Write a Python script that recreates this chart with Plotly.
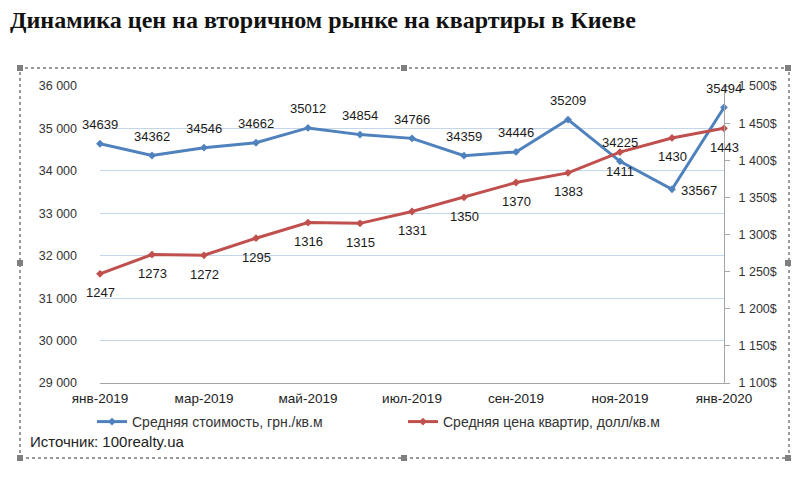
import plotly.graph_objects as go

# ---- data ----
months = ["янв-2019", "фев-2019", "мар-2019", "апр-2019", "май-2019", "июн-2019",
          "июл-2019", "авг-2019", "сен-2019", "окт-2019", "ноя-2019", "дек-2019", "янв-2020"]
uah_per_m2 = [34639, 34362, 34546, 34662, 35012, 34854, 34766, 34359, 34446, 35209, 34225, 33567, 35494]
usd_per_m2 = [1247, 1273, 1272, 1295, 1316, 1315, 1331, 1350, 1370, 1383, 1411, 1430, 1443]
x_tick_labels = months[::2]
left_ticks = [29000, 30000, 31000, 32000, 33000, 34000, 35000, 36000]
right_ticks = [1100, 1150, 1200, 1250, 1300, 1350, 1400, 1450, 1500]
blue_label_pos = ["above"] * 11 + ["right", "above"]
red_label_pos = ["below"] * 13

series_uah = "Средняя стоимость, грн./кв.м"
series_usd = "Средняя цена квартир, долл/кв.м"
title_text = "Динамика цен на вторичном рынке на квартиры в Киеве"
source_text = "Источник: 100realty.ua"

# ---- layout geometry (page pixels; page body has an 8px margin) ----
OFF = 8
PAGE_W, PAGE_H = 810, 477
W, H = PAGE_W - OFF, PAGE_H - OFF
PLOT_LEFT, PLOT_RIGHT, PLOT_TOP, PLOT_BOTTOM = 100, 724, 86, 383
L = PLOT_LEFT - OFF
R = PAGE_W - PLOT_RIGHT
T = PLOT_TOP - OFF
B = PAGE_H - PLOT_BOTTOM
PW, PH = PLOT_RIGHT - PLOT_LEFT, PLOT_BOTTOM - PLOT_TOP

def px_x(p):
    return (p - PLOT_LEFT) / PW

def px_y(p):
    return (PLOT_BOTTOM - p) / PH

BLUE = "#4F81BD"
RED = "#C0504D"
FONT = "Liberation Sans"

fig = go.Figure()
fig.add_trace(go.Scatter(
    x=months, y=uah_per_m2, name=series_uah, mode="lines+markers",
    line=dict(color=BLUE, width=3), marker=dict(symbol="diamond", size=6, color=BLUE),
    cliponaxis=False, legend="legend"))
fig.add_trace(go.Scatter(
    x=months, y=usd_per_m2, name=series_usd, mode="lines+markers", yaxis="y2",
    line=dict(color=RED, width=3), marker=dict(symbol="diamond", size=6, color=RED),
    cliponaxis=False, legend="legend2"))

shift = {"above": (0, 19), "below": (0, -19), "right": (27, -1)}
annotations = []
for m, v, pos in zip(months, uah_per_m2, blue_label_pos):
    dx, dy = shift[pos]
    annotations.append(dict(x=m, y=v, xref="x", yref="y", text=str(v), showarrow=False,
                            xshift=dx, yshift=dy, font=dict(family=FONT, size=13, color="#1a1a1a")))
for m, v, pos in zip(months, usd_per_m2, red_label_pos):
    dx, dy = shift[pos]
    annotations.append(dict(x=m, y=v, xref="x", yref="y2", text=str(v), showarrow=False,
                            xshift=dx, yshift=dy, font=dict(family=FONT, size=13, color="#1a1a1a")))
annotations.append(dict(x=px_x(28), y=px_y(441), xref="paper", yref="paper", text=source_text,
                        showarrow=False, xanchor="left", yanchor="middle",
                        font=dict(family=FONT, size=15, color="#222222")))

shapes = [dict(type="rect", xref="paper", yref="paper",
               x0=px_x(20), x1=px_x(789), y0=px_y(458), y1=px_y(68),
               line=dict(color="#9a9a9a", width=2, dash="dot"), layer="below")]
for hx in (20, 404, 788):
    for hy in (68, 263, 458):
        if hx == 404 and hy == 263:
            continue
        shapes.append(dict(type="rect", xref="paper", yref="paper",
                           xsizemode="pixel", ysizemode="pixel",
                           xanchor=px_x(hx), yanchor=px_y(hy),
                           x0=-3, x1=3, y0=-3, y1=3,
                           fillcolor="#7f7f7f", line=dict(width=0)))

fig.update_layout(
    width=W, height=H, autosize=False,
    margin=dict(l=L, r=R, t=T, b=B),
    paper_bgcolor="white", plot_bgcolor="white",
    title=dict(text=f"<b>{title_text}</b>", xref="container", yref="container",
               x=(10 - OFF) / W, y=1 - (20 - OFF) / H, xanchor="left", yanchor="middle",
               font=dict(family="Liberation Serif", size=24, color="#111111")),
    xaxis=dict(type="category", categoryorder="array", categoryarray=months,
               range=[0, len(months) - 1], tickvals=x_tick_labels, ticktext=x_tick_labels,
               showgrid=False, zeroline=False, showline=True, linecolor="#a6a6a6", linewidth=1,
               ticks="", ticklabelstandoff=3,
               tickfont=dict(family=FONT, size=13.5, color="#222222")),
    yaxis=dict(range=[29000, 36000], tickvals=left_ticks,
               ticktext=[f"{v:,}".replace(",", " ") for v in left_ticks],
               showgrid=True, gridcolor="#c3d6ea", gridwidth=1, zeroline=False, showline=False,
               ticks="", ticklabelstandoff=22,
               tickfont=dict(family=FONT, size=12.5, color="#333333")),
    yaxis2=dict(range=[1100, 1500], overlaying="y", side="right", tickvals=right_ticks,
                ticktext=[f"{v:,}".replace(",", " ") + "$" for v in right_ticks],
                showgrid=False, zeroline=False, showline=True, linecolor="#a6a6a6", linewidth=1,
                ticks="outside", ticklen=5, tickcolor="#a6a6a6", ticklabelstandoff=6,
                tickfont=dict(family=FONT, size=12.5, color="#333333")),
    legend=dict(x=px_x(92), y=px_y(422), xanchor="left", yanchor="middle",
                orientation="h", bgcolor="rgba(0,0,0,0)",
                font=dict(family=FONT, size=14, color="#333333")),
    legend2=dict(x=px_x(403), y=px_y(422), xanchor="left", yanchor="middle",
                 orientation="h", bgcolor="rgba(0,0,0,0)",
                 font=dict(family=FONT, size=14, color="#333333")),
    annotations=annotations,
    shapes=shapes,
    showlegend=True,
)

fig.write_html("out.html")
